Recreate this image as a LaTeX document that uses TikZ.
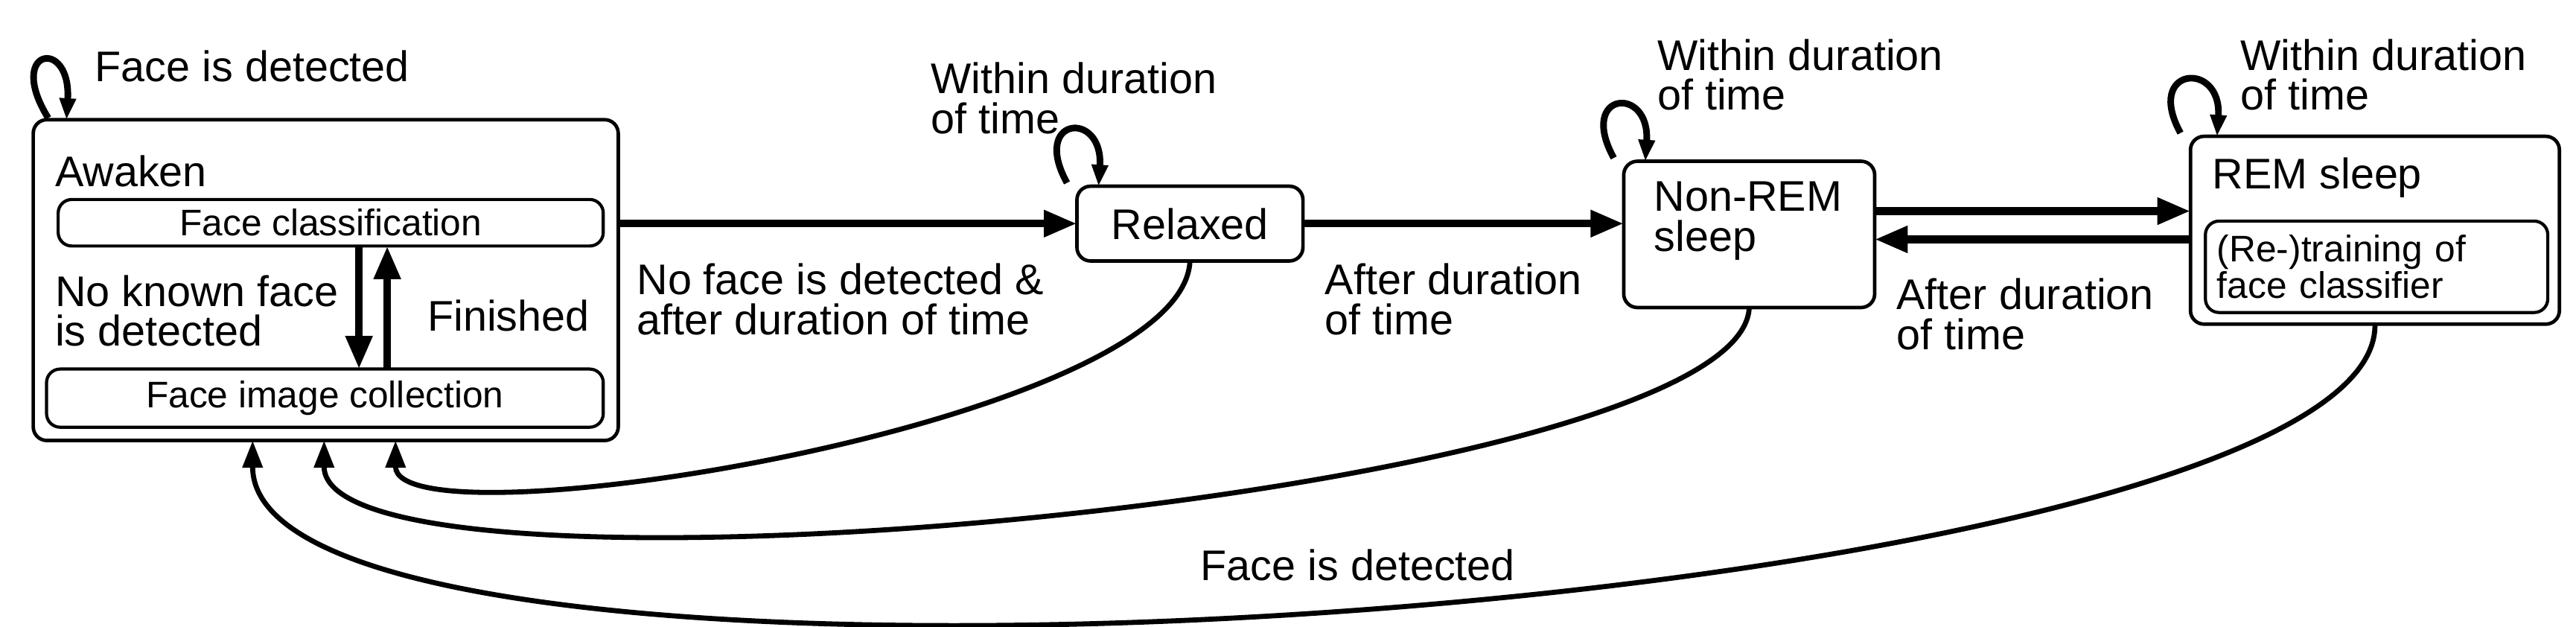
\documentclass[tikz,border=0pt]{standalone}
\usepackage{fontspec}
\setmainfont{Liberation Sans}
\usetikzlibrary{arrows.meta,calc,positioning}
\tikzset{>={Triangle[length=17pt,width=13pt]}}
\tikzset{
  state/.style={draw,line width=1.8pt,rounded corners=7pt,anchor=north west,inner sep=0pt,outer sep=0pt},
  substate/.style={draw,line width=1.6pt,rounded corners=7pt,inner sep=0pt,outer sep=0pt,font=\fontsize{19}{17}\selectfont},
  label/.style={align=left,inner sep=0pt,font=\fontsize{22}{20.5}\selectfont},
  trans/.style={->,line width=4pt},
  back/.style={-{Triangle[length=14pt,width=10pt]},line width=2.6pt},
  selfloop/.style={-{Triangle[length=11pt,width=8pt]},line width=3.4pt}
}
\begin{document}
\begin{tikzpicture}[x=0.3mm,y=-0.3mm]
\useasboundingbox (0,0) rectangle (1550,377);
% states
\node[state,minimum width=352*0.3mm,minimum height=193*0.3mm] (awaken) at (20,72) {};
\node[label,anchor=west] (awakenlbl) at (33,103) {Awaken};
\node[substate,minimum width=328*0.3mm,minimum height=28*0.3mm] (fc) at (199,134) {Face classification};
\node[substate,minimum width=335*0.3mm,minimum height=35*0.3mm] (fic) at (195.5,239.5) {Face image collection};
\node[state,minimum width=136*0.3mm,minimum height=45*0.3mm] (relaxed) at (648,112) {};
\node[label] (relaxedlbl) at (716,135) {Relaxed};
\node[state,minimum width=151*0.3mm,minimum height=88*0.3mm] (nonrem) at (977,97) {};
\node[label,anchor=west] (nonremlbl) at (995,133) {Non-REM\\sleep};
\node[state,minimum width=222*0.3mm,minimum height=113*0.3mm] (rem) at (1318,82) {};
\node[label,anchor=west] (remlbl) at (1331,107) {REM sleep};
\node[substate,minimum width=206*0.3mm,minimum height=55*0.3mm,align=left,text width=192*0.3mm,font=\fontsize{19}{15}\selectfont] (train) at (1430,160.5) {(Re-)training of\\face classifier};
% transitions
\draw[trans] (awaken.east |- relaxed.west) -- (relaxed.west);
\draw[trans] (relaxed.east) -- (nonrem.west |- relaxed.east);
\draw[trans] ($(nonrem.east)+(0,-14)$) -- ($(rem.west |- nonrem.east)+(0,-14)$);
\draw[trans] ($(rem.west |- nonrem.east)+(0,3)$) -- ($(nonrem.east)+(0,3)$);
\draw[trans] ($(fc.south)+(17,0)$) -- ($(fic.north)+(20.5,0)$);
\draw[trans] ($(fic.north)+(37.5,0)$) -- ($(fc.south)+(34,0)$);
% back to awaken
\draw[back] (relaxed.south) .. controls (712,255) and (238,330) .. (238,265);
\draw[back] (nonrem.south) .. controls (1048,300) and (195,375) .. (195,265);
\draw[back] (rem.south) .. controls (1433,370) and (152,455) .. (152,265);
% self loops
\draw[selfloop] ($(awaken.north west)+(9,-1)$) .. controls +(-26,-42) and +(3,-50) .. ($(awaken.north west)+(20,0)$);
\draw[selfloop] ($(relaxed.north west)+(-6,-2)$) .. controls +(-22,-40) and +(3,-46) .. ($(relaxed.north west)+(13,0)$);
\draw[selfloop] ($(nonrem.north west)+(-6,-2)$) .. controls +(-22,-40) and +(3,-46) .. ($(nonrem.north west)+(13,0)$);
\draw[selfloop] ($(rem.north west)+(-6,-2)$) .. controls +(-22,-40) and +(3,-46) .. ($(rem.north west)+(16,0)$);
% labels
\node[label,anchor=west] (l1) at (57,40) {Face is detected};
\node[label,anchor=west] (l2) at (560,59) {Within duration\\of time};
\node[label,anchor=west] (l3) at (997,45) {Within duration\\of time};
\node[label,anchor=west] (l4) at (1348,45) {Within duration\\of time};
\node[label,anchor=west] (l5) at (383,180) {No face is detected \&\\after duration of time};
\node[label,anchor=west] (l6) at (797,180) {After duration\\of time};
\node[label,anchor=west] (l7) at (1141,189) {After duration\\of time};
\node[label,anchor=west] (l8) at (33,187) {No known face\\is detected};
\node[label,anchor=west] (l9) at (257,190) {Finished};
\node[label] (l10) at (817,340) {Face is detected};
\end{tikzpicture}
\end{document}
